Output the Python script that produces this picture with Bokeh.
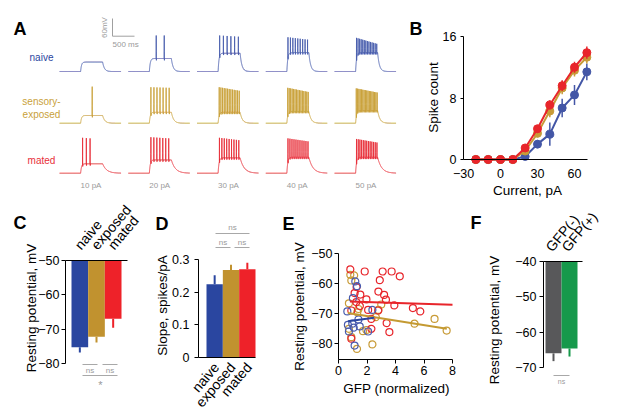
import numpy as np
from math import pi
from bokeh.plotting import figure
from bokeh.layouts import row, column
from bokeh.models import FixedTicker
from bokeh.core.properties import value
from bokeh.embed import file_html
from bokeh.resources import INLINE

FONT = "Liberation Sans"

# ---------------- data ----------------
# Panel A (example traces)
step_labels = ["10 pA", "20 pA", "30 pA", "40 pA", "50 pA"]
row_names = ["naive", "sensory-", "exposed", "mated"]
spikes_naive = [0, 2, 6, 9, 14]
spikes_exposed = [1, 7, 13, 15, 17]
spikes_mated = [3, 7, 9, 11, 13]
trough_naive = [32, 44, 62, 64, 64]
trough_exposed = [26, 37, 37, 40, 43]
trough_mated = [32, 45, 52, 54, 54]
peak0_naive = [0, 122, 122, 116, 114]
peak1_naive = [0, 122, 118, 108, 94]
peak0_exposed = [124, 122, 122, 120, 118]
peak1_exposed = [124, 120, 110, 106, 104]
peak0_mated = [120, 122, 120, 118, 116]
peak1_mated = [118, 118, 112, 108, 104]
first_naive = [0, 156, 35, 25, 20]
last_naive = [0, 338, 460, 470, 480]
first_exposed = [263, 35, 25, 20, 15]
last_exposed = [263, 450, 480, 485, 490]
first_mated = [45, 35, 30, 25, 20]
last_mated = [215, 440, 470, 480, 485]
scale_ms = 500
scale_mv = 60

# Panel B (F-I curves)
current_B = [-20, -10, 0, 10, 20, 30, 40, 50, 60, 70]
count_naive = [0, 0, 0, 0, 0.4, 2.0, 3.3, 6.7, 8.4, 11.4]
sem_naive = [0, 0, 0, 0, 0.2, 0.5, 1.5, 1.2, 1.3, 1.1]
count_exposed = [0, 0, 0, 0, 1.1, 3.4, 6.3, 9.3, 11.6, 13.3]
sem_exposed = [0, 0, 0, 0, 0.3, 0.5, 0.8, 0.8, 0.8, 0.8]
count_mated = [0, 0, 0, 0, 1.5, 4.0, 7.1, 9.6, 12.0, 13.9]
sem_mated = [0, 0, 0, 0, 0.3, 0.5, 0.6, 0.7, 0.7, 0.8]

# Panel C (resting potential)
groups = ["naive", "exposed", "mated"]
rest_C = [-75.3, -72.2, -67.0]
rest_C_sem = [1.5, 1.7, 2.6]

# Panel D (slope)
slope_D = [0.224, 0.268, 0.270]
slope_D_sem = [0.028, 0.016, 0.020]

# Panel E (GFP vs resting potential)
gfp_mated = [0.83, 1.84, 3.10, 3.73, 4.30, 2.90, 1.27, 1.13, 1.53, 2.80, 3.20, 3.33, 1.25,
             1.96, 3.92, 5.22, 5.74, 0.90, 2.08, 2.79, 3.38, 3.57, 2.31, 0.90, 2.31, 1.50]
vm_mated = [-55.3, -56.0, -56.0, -56.0, -57.6, -58.9, -61.2, -63.2, -63.7, -62.7, -63.8, -65.4, -66.2,
            -65.3, -67.3, -68.2, -69.3, -69.0, -68.8, -69.0, -73.2, -76.2, -75.1, -78.4, -71.8, -67.5]
gfp_exposed = [0.83, 1.10, 0.90, 0.73, 1.32, 3.00, 2.80, 2.62, 5.34, 6.74, 7.59, 0.73, 0.90,
               1.30, 2.38, 1.72, 1.96, 1.40]
vm_exposed = [-57.1, -57.3, -59.0, -66.6, -69.6, -67.0, -68.8, -71.2, -73.4, -71.8, -75.7, -75.1, -77.9,
              -81.8, -80.3, -75.9, -75.5, -68.5]
gfp_naive = [1.18, 1.30, 1.01, 0.62, 0.66, 0.97, 1.07, 1.49, 0.73, 1.13, 2.38, 1.40, 2.08]
vm_naive = [-59.3, -60.9, -64.9, -69.3, -73.8, -73.4, -74.7, -74.3, -76.0, -80.7, -68.8, -72.0, -76.0]
fit_mated_x = [0.8, 8.0]
fit_mated_y = [-66.0, -67.1]
fit_exposed_x = [0.66, 7.6]
fit_exposed_y = [-69.8, -75.1]
fit_naive_x = [0.66, 2.5]
fit_naive_y = [-72.6, -71.4]

# Panel F
groups_F = ["GFP(-)", "GFP(+)"]
rest_F = [-66.0, -64.6]
rest_F_sem = [2.2, 2.3]

# ---------------- colours ----------------
C_NAIVE_TR, C_EXP_TR, C_MATED_TR = "#4a5fae", "#c9a13a", "#e8303a"
C_NAIVE, C_EXP, C_MATED = "#2a46a0", "#c1922f", "#ee2229"
C_NAIVE_B, C_EXP_B, C_MATED_B = "#4356a6", "#c89b37", "#e8252b"
C_GFPN, C_GFPP = "#58585a", "#16994b"
GRAY = "#9a9a9a"
SIGLINE = "#a8a8a8"
TICK_FS = "12.5px"
CAT_FS = "14px"
TITLE_FS = "13.5px"
CAT_ANGLE = 0.87


def lin(p0, v0, p1, v1):
    k = (v1 - v0) / (p1 - p0)
    return lambda p: v0 + (p - p0) * k


def panel(L, T, W, H, fx, fy, xloc="below", yloc="left"):
    p = figure(width=W, height=H, x_range=(fx(L), fx(L + W)), y_range=(fy(T + H), fy(T)),
               output_backend="svg", toolbar_location=None, min_border=0,
               x_axis_location=xloc, y_axis_location=yloc)
    p.outline_line_color = None
    p.grid.visible = False
    p.background_fill_color = "white"
    p.border_fill_color = "white"
    return p


def style_axes(p, tick_out=4, standoff=3):
    for ax in p.axis:
        ax.axis_line_color = "black"
        ax.axis_line_width = 1
        ax.major_tick_line_color = "black"
        ax.minor_tick_line_color = None
        ax.major_tick_in = 0
        ax.major_tick_out = tick_out
        ax.major_label_text_font = FONT
        ax.major_label_text_font_size = TICK_FS
        ax.major_label_text_color = "black"
        ax.major_label_standoff = standoff


def txt(p, x, y, s, size, color="black", align="center", baseline="middle", angle=0.0, bold=False):
    p.text(x=[x], y=[y], text=[s], text_color=color, text_font=value(FONT),
           text_font_size=size, text_align=align, text_baseline=baseline, angle=angle,
           text_font_style="bold" if bold else "normal")


def letter(p, fx, fy, px, py, s):
    txt(p, fx(px), fy(py), s, "18px", align="left", baseline="alphabetic", bold=True)


def category_labels(p, xs, names, fy, py, dx_px, fx, align):
    # slanted group names next to a category axis
    k = fx(1) - fx(0)
    p.text(x=[x + dx_px * k for x in xs], y=[fy(py)] * len(xs), text=names,
           text_color="black", text_font=value(FONT), text_font_size=CAT_FS,
           text_align=align, text_baseline="middle", angle=CAT_ANGLE)


# page layout (the Bokeh page starts at the window's top-left corner)
TOP_H, BOT_H = 200, 219

# ---------------- Panel A ----------------
MS_PX = 500 / 22.0
MV_PX = 60 / 17.7
fxA = lin(59, 0.0, 60, MS_PX)
fyA = lin(71, 0.0, 70, MV_PX)
pA = panel(0, 0, 422, TOP_H, fxA, fyA, xloc=None, yloc=None)

T_ON, T_OFF, T_END = 480.0, 980.0, 1400.0
COL_MS = 68.75 * MS_PX


def trace(n, trough, pk0, pk1, first, last, tau_off):
    t = np.arange(0.0, T_END, 1.0)
    v = np.zeros_like(t)
    on = (t >= T_ON) & (t < T_OFF)
    v[on] = trough * (1 - np.exp(-(t[on] - T_ON) / 20.0))
    lvl = trough * (1 - np.exp(-(T_OFF - T_ON) / 20.0))
    aft = t >= T_OFF
    v[aft] = lvl * np.exp(-(t[aft] - T_OFF) / tau_off)
    if n > 0:
        times = np.linspace(T_ON + first, T_ON + last, n)
        peaks = np.linspace(pk0, pk1, n)
        for ts, pk in zip(times, peaks):
            i = int(round(ts))
            v[i - 1] += (pk - v[i - 1]) * 0.35
            v[i] = pk
            v[i + 1] += (pk - v[i + 1]) * 0.3
            v[i + 2:i + 6] -= 6
    return t, v


rows_A = [
    (spikes_naive, trough_naive, peak0_naive, peak1_naive, first_naive, last_naive, 40.0, C_NAIVE_TR, 71),
    (spikes_exposed, trough_exposed, peak0_exposed, peak1_exposed, first_exposed, last_exposed, 50.0, C_EXP_TR, 122.7),
    (spikes_mated, trough_mated, peak0_mated, peak1_mated, first_mated, last_mated, 90.0, C_MATED_TR, 172.7),
]
for spk, tr, p0, p1, f0, l0, tau, col, base_py in rows_A:
    base = fyA(base_py)
    for j in range(len(step_labels)):
        t, v = trace(spk[j], tr[j], p0[j], p1[j], f0[j], l0[j], tau)
        pA.line(t + j * COL_MS, v + base, line_color=col, line_width=0.9)

pA.text(x=[fxA(41)] * 4, y=[fyA(57), fyA(101), fyA(113.5), fyA(160)],
        text=row_names, text_color=[C_NAIVE, C_EXP_TR, C_EXP_TR, C_MATED_TR],
        text_font=value(FONT), text_font_size="10px", text_align="center", text_baseline="middle")
pA.text(x=[fxA(90.5) + j * COL_MS for j in range(5)], y=[fyA(185)] * 5, text=step_labels,
        text_color=GRAY, text_font=value(FONT), text_font_size="8px",
        text_align="center", text_baseline="middle")
sx0, sy0 = fxA(112), fyA(35.7)
pA.line([sx0, sx0, sx0 + scale_ms], [sy0 + scale_mv, sy0, sy0], line_color="#a0a0a0", line_width=1)
txt(pA, sx0, fyA(44), "%d ms" % scale_ms, "8px", color=GRAY, align="left")
txt(pA, fxA(104), fyA(27), "%dmV" % scale_mv, "8px", color=GRAY, angle=pi / 2)
letter(pA, fxA, fyA, 13, 28, "A")
letter(pA, fxA, fyA, 409, 28, "B")

# ---------------- Panel B ----------------
fxB = lin(500, 0, 574, 60)
fyB = lin(159, 0, 36, 16)
pB = panel(422, 0, 194, TOP_H, fxB, fyB)
style_axes(pB, tick_out=3, standoff=4)
pB.xaxis.fixed_location = 0
pB.xaxis.bounds = (-30, fxB(587))
pB.xaxis.ticker = FixedTicker(ticks=[-30, 0, 30, 60])
pB.xaxis.major_tick_out = 0
pB.xaxis.major_label_standoff = 9
pB.yaxis.fixed_location = -30
pB.yaxis.bounds = (0, 16)
pB.yaxis.ticker = FixedTicker(ticks=[0, 8, 16])
for cnt, sem, col in [(count_naive, sem_naive, C_NAIVE_B), (count_exposed, sem_exposed, C_EXP_B),
                      (count_mated, sem_mated, C_MATED_B)]:
    lo = [c - s for c, s in zip(cnt, sem)]
    hi = [c + s for c, s in zip(cnt, sem)]
    pB.segment(x0=current_B, y0=lo, x1=current_B, y1=hi, line_color=col, line_width=1.5)
    pB.line(current_B, cnt, line_color=col, line_width=2)
    pB.scatter(current_B, cnt, size=8, fill_color=col, line_color=col)
txt(pB, fxB(432.5), fyB(97), "Spike count", TITLE_FS, angle=pi / 2)
txt(pB, fxB(527), fyB(190), "Current, pA", TITLE_FS)

# ---------------- Panel C ----------------
fxC = lin(71, 0.5, 121, 3.5)
fyC = lin(260, -50, 363, -80)
pC = panel(0, TOP_H, 149, BOT_H, fxC, fyC, xloc="above")
style_axes(pC, tick_out=4, standoff=2)
xs3 = [1, 2, 3]
cols3 = [C_NAIVE, C_EXP, C_MATED]
pC.xaxis.fixed_location = -50
pC.xaxis.bounds = (fxC(65), fxC(127))
pC.xaxis.ticker = FixedTicker(ticks=[])
pC.xaxis.major_tick_out = 0
pC.yaxis.fixed_location = fxC(65)
pC.yaxis.bounds = (-80, -50)
pC.yaxis.ticker = FixedTicker(ticks=[-80, -70, -60, -50])
pC.segment(x0=xs3, y0=rest_C, x1=xs3, y1=[m - s for m, s in zip(rest_C, rest_C_sem)],
           line_color=cols3, line_width=2)
pC.vbar(x=xs3, top=-50, bottom=rest_C, width=1.0, fill_color=cols3, line_color=None)
category_labels(pC, xs3, groups, fyC, 247, -2.5, fxC, "left")
pC.segment(x0=[fxC(82), fxC(102), fxC(82)], y0=[fyC(364)] * 2 + [fyC(375)],
           x1=[fxC(97), fxC(117), fxC(117)], y1=[fyC(364)] * 2 + [fyC(375)],
           line_color=SIGLINE, line_width=1)
pC.text(x=[fxC(89.5), fxC(109.5)], y=[fyC(369.5)] * 2, text=["ns", "ns"], text_color=GRAY,
        text_font=value(FONT), text_font_size="8px", text_align="center", text_baseline="middle")
txt(pC, fxC(100), fyC(384), "*", "11px", color=GRAY)
letter(pC, fxC, fyC, 13, 222, "C")
txt(pC, fxC(31), fyC(307.5), "Resting potential, mV", TITLE_FS, angle=pi / 2)

# ---------------- Panel D ----------------
fxD = lin(206, 0.5, 255, 3.5)
fyD = lin(357, 0.0, 259, 0.3)
pD = panel(149, TOP_H, 126, BOT_H, fxD, fyD)
style_axes(pD, tick_out=4, standoff=5)
pD.xaxis.fixed_location = 0
pD.xaxis.bounds = (fxD(198), fxD(255))
pD.xaxis.ticker = FixedTicker(ticks=[])
pD.xaxis.major_tick_out = 0
pD.yaxis.fixed_location = fxD(198)
pD.yaxis.bounds = (0, 0.3)
pD.yaxis.ticker = FixedTicker(ticks=[0, 0.1, 0.2, 0.3])
pD.yaxis.major_label_overrides = {0: "0", 0.1: "0.1", 0.2: "0.2", 0.3: "0.3"}
pD.segment(x0=xs3, y0=slope_D, x1=xs3, y1=[m + s for m, s in zip(slope_D, slope_D_sem)],
           line_color=cols3, line_width=2)
pD.vbar(x=xs3, top=slope_D, bottom=0, width=1.0, fill_color=cols3, line_color=None)
category_labels(pD, xs3, groups, fyD, 364, 1.5, fxD, "right")
pD.segment(x0=[fxD(215), fxD(215), fxD(234)], y0=[fyD(233), fyD(247), fyD(247)],
           x1=[fxD(249), fxD(230), fxD(249)], y1=[fyD(233), fyD(247), fyD(247)],
           line_color=SIGLINE, line_width=1)
pD.text(x=[fxD(232), fxD(222.5), fxD(241.5)], y=[fyD(227), fyD(241.5), fyD(241.5)],
        text=["ns", "ns", "ns"], text_color=GRAY, text_font=value(FONT), text_font_size="8px",
        text_align="center", text_baseline="middle")
letter(pD, fxD, fyD, 155, 223, "D")
txt(pD, fxD(162), fyD(305), "Slope, spikes/pA", TITLE_FS, angle=pi / 2)

# ---------------- Panel E ----------------
fxE = lin(338, 0, 452, 8)
fyE = lin(253, -50, 343, -80)
pE = panel(275, TOP_H, 185, BOT_H, fxE, fyE)
style_axes(pE, tick_out=4, standoff=2)
pE.xaxis.fixed_location = fyE(359)
pE.xaxis.bounds = (0, 8)
pE.xaxis.ticker = FixedTicker(ticks=[0, 2, 4, 6, 8])
pE.yaxis.fixed_location = 0
pE.yaxis.bounds = (fyE(359), -50)
pE.yaxis.ticker = FixedTicker(ticks=[-80, -70, -60, -50])
pE.scatter(gfp_exposed, vm_exposed, size=7, fill_alpha=0, line_color=C_EXP_B, line_width=1.2)
pE.scatter(gfp_mated, vm_mated, size=7, fill_alpha=0, line_color=C_MATED_B, line_width=1.2)
pE.scatter(gfp_naive, vm_naive, size=7, fill_alpha=0, line_color="#4a5cae", line_width=1.2)
pE.line(fit_mated_x, fit_mated_y, line_color=C_MATED_B, line_width=2)
pE.line(fit_exposed_x, fit_exposed_y, line_color="#c49a32", line_width=2)
pE.line(fit_naive_x, fit_naive_y, line_color=C_NAIVE, line_width=2)
letter(pE, fxE, fyE, 282, 223, "E")
txt(pE, fxE(396), fyE(388), "GFP (normalized)", TITLE_FS)
txt(pE, fxE(299), fyE(306), "Resting potential, mV", TITLE_FS, angle=pi / 2)

# ---------------- Panel F ----------------
fxF = lin(545, 0.5, 577, 2.5)
fyF = lin(261, -40, 367, -70)
pF = panel(460, TOP_H, 156, BOT_H, fxF, fyF, xloc="above")
style_axes(pF, tick_out=4, standoff=3)
xs2 = [1, 2]
cols2 = [C_GFPN, C_GFPP]
pF.xaxis.fixed_location = -40
pF.xaxis.bounds = (fxF(543), fxF(582))
pF.xaxis.ticker = FixedTicker(ticks=[])
pF.xaxis.major_tick_out = 0
pF.yaxis.fixed_location = fxF(543)
pF.yaxis.bounds = (-70, -40)
pF.yaxis.ticker = FixedTicker(ticks=[-70, -60, -50, -40])
pF.segment(x0=xs2, y0=rest_F, x1=xs2, y1=[m - s for m, s in zip(rest_F, rest_F_sem)],
           line_color=cols2, line_width=2)
pF.vbar(x=xs2, top=-40, bottom=rest_F, width=1.0, fill_color=cols2, line_color=None)
category_labels(pF, xs2, groups_F, fyF, 249, -5, fxF, "left")
pF.segment(x0=[fxF(553)], y0=[fyF(375)], x1=[fxF(569)], y1=[fyF(375)], line_color=SIGLINE, line_width=1)
txt(pF, fxF(561), fyF(381), "ns", "7px", color=GRAY)
letter(pF, fxF, fyF, 470, 222, "F")
txt(pF, fxF(493.5), fyF(319.5), "Resting potential, mV", TITLE_FS, angle=pi / 2)

layout = column(row(pA, pB, spacing=0), row(pC, pD, pE, pF, spacing=0), spacing=0)
open("out.html", "w").write(file_html(layout, INLINE))
